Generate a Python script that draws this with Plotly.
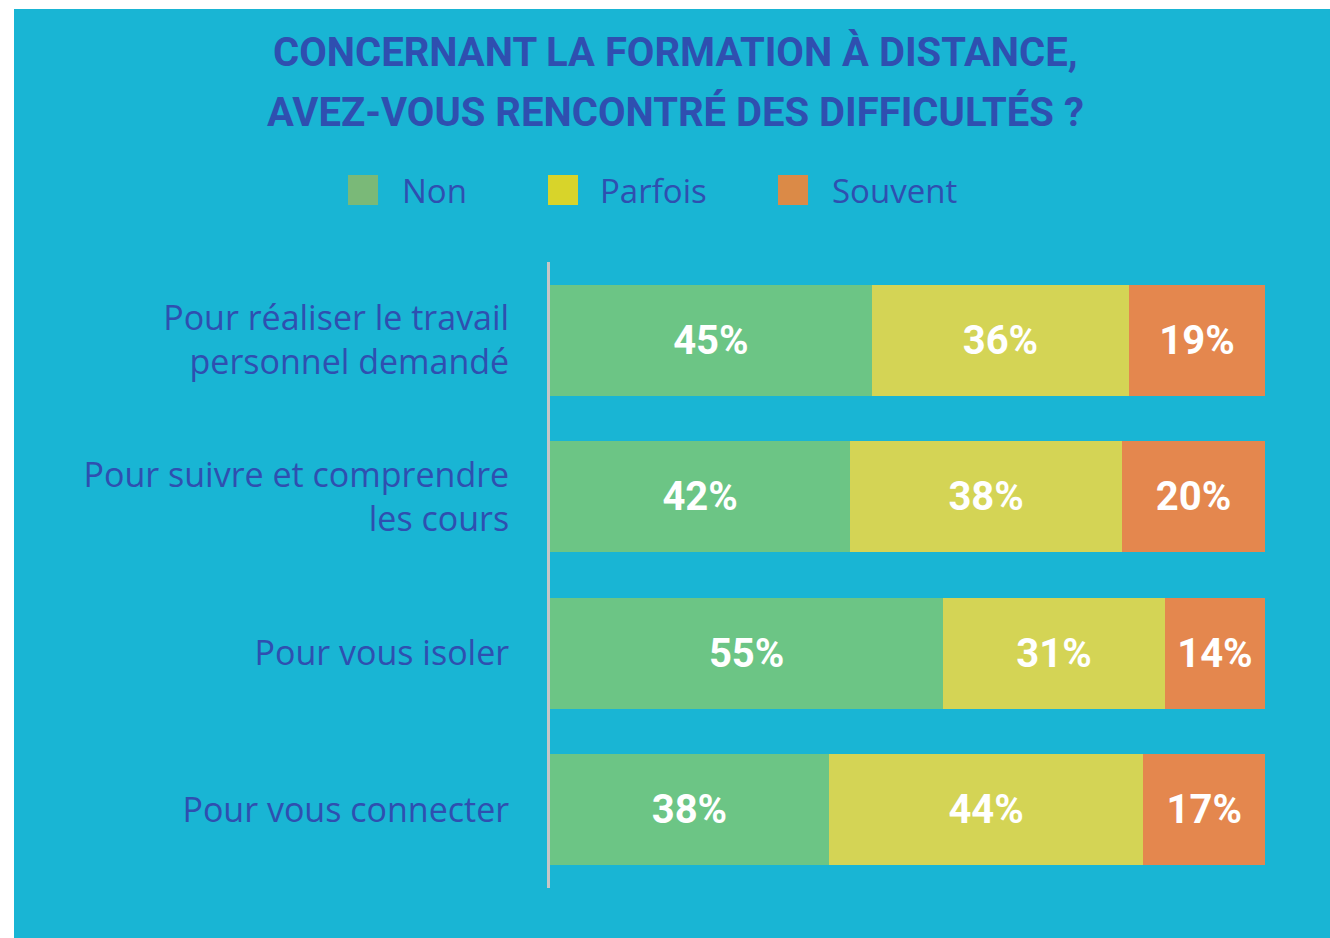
import plotly.graph_objects as go

# ---- data ----
categories = [
    "Pour réaliser le travail<br>personnel demandé",
    "Pour suivre et comprendre<br>les cours",
    "Pour vous isoler",
    "Pour vous connecter",
]
series_names = ["Non", "Parfois", "Souvent"]
non_values = [45, 42, 55, 39]
parfois_values = [36, 38, 31, 44]
souvent_values = [19, 20, 14, 17]
non_labels = ["45%", "42%", "55%", "38%"]
parfois_labels = ["36%", "38%", "31%", "44%"]
souvent_labels = ["19%", "20%", "14%", "17%"]

title_lines = ["CONCERNANT LA FORMATION À DISTANCE,", "AVEZ-VOUS RENCONTRÉ DES DIFFICULTÉS ?"]

# ---- style ----
W, H = 1330, 938
ML, MR, MT, MB = 550, 65, 262, 50
BLUE_BG = "#19b5d4"
TXT = "#2f4fb0"
colors = ["#6cc585", "#d4d455", "#e4874e"]
legend_colors = ["#7ab978", "#d8d42a", "#db8a47"]
BOLDF = "Roboto, Liberation Sans, sans-serif"
HUMAN = "Open Sans, Noto Sans, sans-serif"

pw = W - ML - MR
ph = H - MT - MB


def px_x(x):
    return (x - ML) / pw


def px_y(y):
    return (H - MB - y) / ph


fig = go.Figure()
for name, vals, labs, col in zip(
    series_names,
    [non_values, parfois_values, souvent_values],
    [non_labels, parfois_labels, souvent_labels],
    colors,
):
    fig.add_trace(go.Bar(
        name=name, y=categories, x=vals, orientation="h",
        marker=dict(color=col, line=dict(width=0)),
        text=labs, textposition="inside", insidetextanchor="middle",
        textangle=0, constraintext="none",
        textfont=dict(family=BOLDF, size=40, color="white", weight="bold"),
        hoverinfo="skip",
    ))

shapes = [
    dict(type="rect", xref="paper", yref="paper", layer="below",
         x0=px_x(14), x1=px_x(1330), y0=px_y(938), y1=px_y(9),
         fillcolor=BLUE_BG, line=dict(width=0)),
]
annotations = []
for line, cy in zip(title_lines, [53, 112]):
    annotations.append(dict(text=line, xref="paper", yref="paper",
                            x=px_x(675), y=px_y(cy), xanchor="center", yanchor="middle",
                            showarrow=False,
                            font=dict(family=BOLDF, size=40, color=TXT, weight="bold")))
legend_sq_x = [348, 548, 778]
legend_txt_x = [400, 598, 830]
for name, col, sx, tx in zip(series_names, legend_colors, legend_sq_x, legend_txt_x):
    shapes.append(dict(type="rect", xref="paper", yref="paper",
                       x0=px_x(sx), x1=px_x(sx + 30), y0=px_y(205), y1=px_y(175),
                       fillcolor=col, line=dict(width=0)))
    annotations.append(dict(text=name, xref="paper", yref="paper",
                            x=px_x(tx), y=px_y(190), xanchor="left", yanchor="middle",
                            showarrow=False,
                            font=dict(family=HUMAN, size=33, color=TXT)))

fig.update_layout(
    width=W, height=H,
    margin=dict(l=ML, r=MR, t=MT, b=MB, pad=0),
    paper_bgcolor="white", plot_bgcolor=BLUE_BG,
    barmode="stack", bargap=0.29,
    showlegend=False,
    xaxis=dict(range=[0, 100], visible=False, showgrid=False, fixedrange=True),
    yaxis=dict(autorange="reversed", showgrid=False, zeroline=False,
               showline=True, linecolor="#c6c6c6", linewidth=3,
               ticks="", ticklabelstandoff=31,
               tickfont=dict(family=HUMAN, size=34, color=TXT)),
    shapes=shapes, annotations=annotations,
)

fig.write_html(
    "out.html",
    config={"displayModeBar": False},
    post_script="document.body.style.margin='0';document.body.style.overflow='hidden';",
)
